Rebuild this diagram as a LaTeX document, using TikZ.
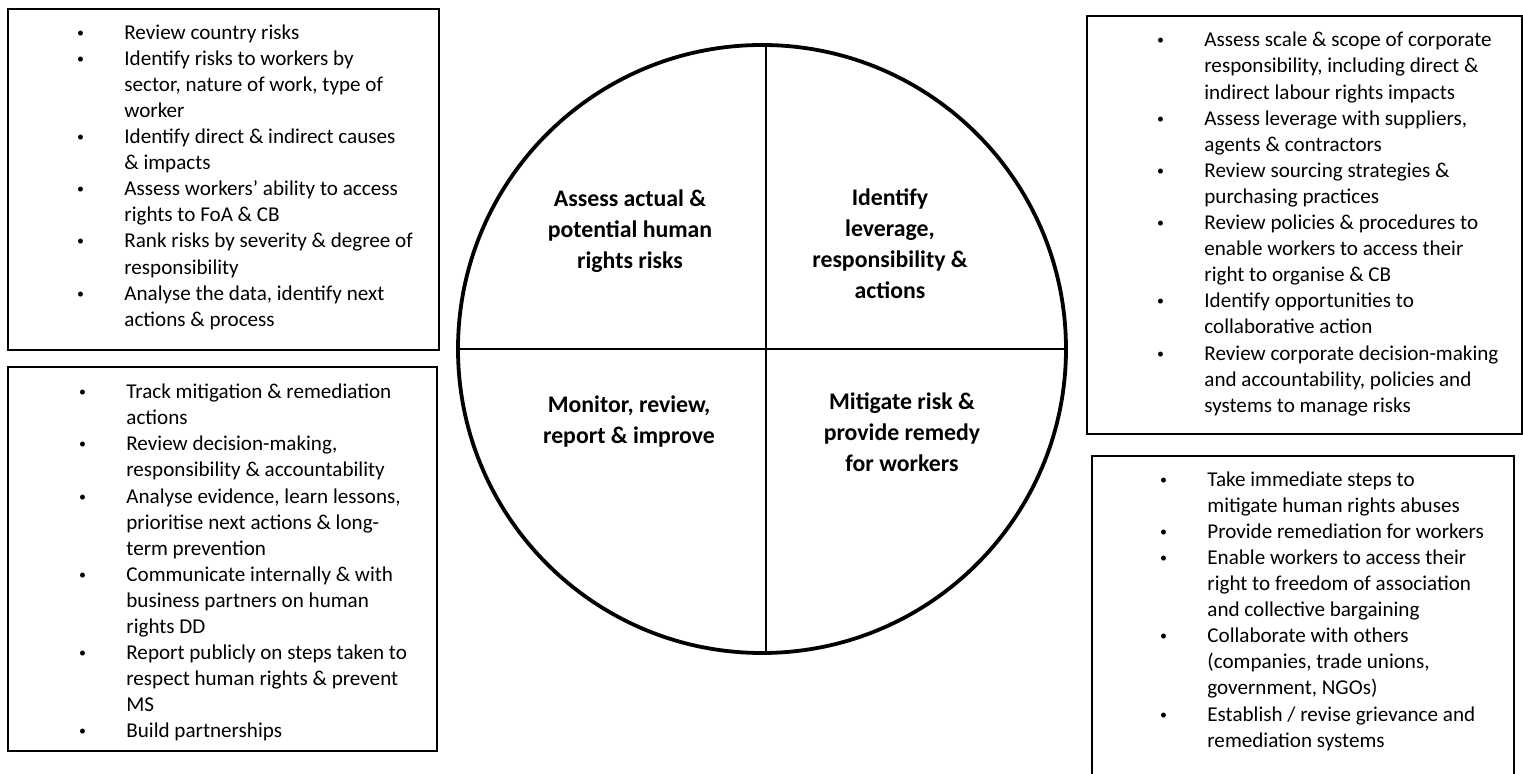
\documentclass[tikz,border=0pt]{standalone}
\usepackage{fontspec}
\setmainfont{Carlito}
% gap between a bullet and the text that follows it
\newlength\bulletgap
\setlength\bulletgap{24.3pt}
\newcommand\bpt{\makebox[\bulletgap][l]{\hspace{0.6pt}\raisebox{1pt}{\fontsize{7pt}{7pt}\selectfont\textbullet}}}
\newcommand\cont{\hspace*{\bulletgap}}
\begin{document}
\begin{tikzpicture}[x=0.5pt,y=-0.5pt,
  framebox/.style={draw, line width=1.1pt, rectangle, inner sep=0pt, anchor=north west},
  itemtext/.style={anchor=north west, inner sep=0pt, align=left,
    font=\fontsize{10.55pt}{13.05pt}\selectfont},
  phase/.style={anchor=north, inner sep=0pt, align=center,
    font=\fontsize{11.9pt}{15.5pt}\selectfont\bfseries},
  divider/.style={line width=1.2pt}]
\useasboundingbox (0,0) rectangle (1523,774);

% central cycle, split into four phases
\node[circle, draw, line width=1.9pt, minimum size=304pt, inner sep=0pt] (wheel) at (762,349) {};
\draw[divider] ([xshift=2pt]wheel.north) -- ([xshift=2pt]wheel.south);
\draw[divider] (wheel.west) -- (wheel.east);

\node[phase] (assess) at (630,184) {\strut Assess actual \&\\potential human\\rights risks};
\node[phase] (identify) at (890,183) {\strut Identify\\leverage,\\responsibility \&\\actions};
\node[phase] (monitor) at (629,390) {\strut Monitor, review,\\report \& improve};
\node[phase] (mitigate) at (902,387) {\strut Mitigate risk \&\\provide remedy\\for workers};

% frames around the lists of actions
\node[framebox, minimum width=215.5pt, minimum height=170.5pt] (assessbox) at (7,8) {};
\node[framebox, minimum width=214.5pt, minimum height=192pt] (monitorbox) at (7,366) {};
\node[framebox, minimum width=217.5pt, minimum height=209pt] (identifybox) at (1086,15) {};
\node[framebox, minimum width=211pt, minimum height=170pt] (mitigatebox) at (1091,455) {};

% lists of actions
\node[itemtext] (assesslist) at (75.4,20.5) {\strut\bpt Review country risks\\
\bpt Identify risks to workers by\\
\cont sector, nature of work, type of\\
\cont worker\\
\bpt Identify direct \& indirect causes\\
\cont \& impacts\\
\bpt Assess workers’ ability to access\\
\cont rights to FoA \& CB\\
\bpt Rank risks by severity \& degree of\\
\cont responsibility\\
\bpt Analyse the data, identify next\\
\cont actions \& process};

\node[itemtext] (monitorlist) at (77.4,380) {\strut\bpt Track mitigation \& remediation\\
\cont actions\\
\bpt Review decision-making,\\
\cont responsibility \& accountability\\
\bpt Analyse evidence, learn lessons,\\
\cont prioritise next actions \& long-\\
\cont term prevention\\
\bpt Communicate internally \& with\\
\cont business partners on human\\
\cont rights DD\\
\bpt Report publicly on steps taken to\\
\cont respect human rights \& prevent\\
\cont MS\\
\bpt Build partnerships};

\node[itemtext] (identifylist) at (1155.4,28.2) {\strut\bpt Assess scale \& scope of corporate\\
\cont responsibility, including direct \&\\
\cont indirect labour rights impacts\\
\bpt Assess leverage with suppliers,\\
\cont agents \& contractors\\
\bpt Review sourcing strategies \&\\
\cont purchasing practices\\
\bpt Review policies \& procedures to\\
\cont enable workers to access their\\
\cont right to organise \& CB\\
\bpt Identify opportunities to\\
\cont collaborative action\\
\bpt Review corporate decision-making\\
\cont and accountability, policies and\\
\cont systems to manage risks};

\node[itemtext] (mitigatelist) at (1158.4,467.5) {\strut\bpt Take immediate steps to\\
\cont mitigate human rights abuses\\
\bpt Provide remediation for workers\\
\bpt Enable workers to access their\\
\cont right to freedom of association\\
\cont and collective bargaining\\
\bpt Collaborate with others\\
\cont (companies, trade unions,\\
\cont government, NGOs)\\
\bpt Establish / revise grievance and\\
\cont remediation systems};
\end{tikzpicture}
\end{document}
